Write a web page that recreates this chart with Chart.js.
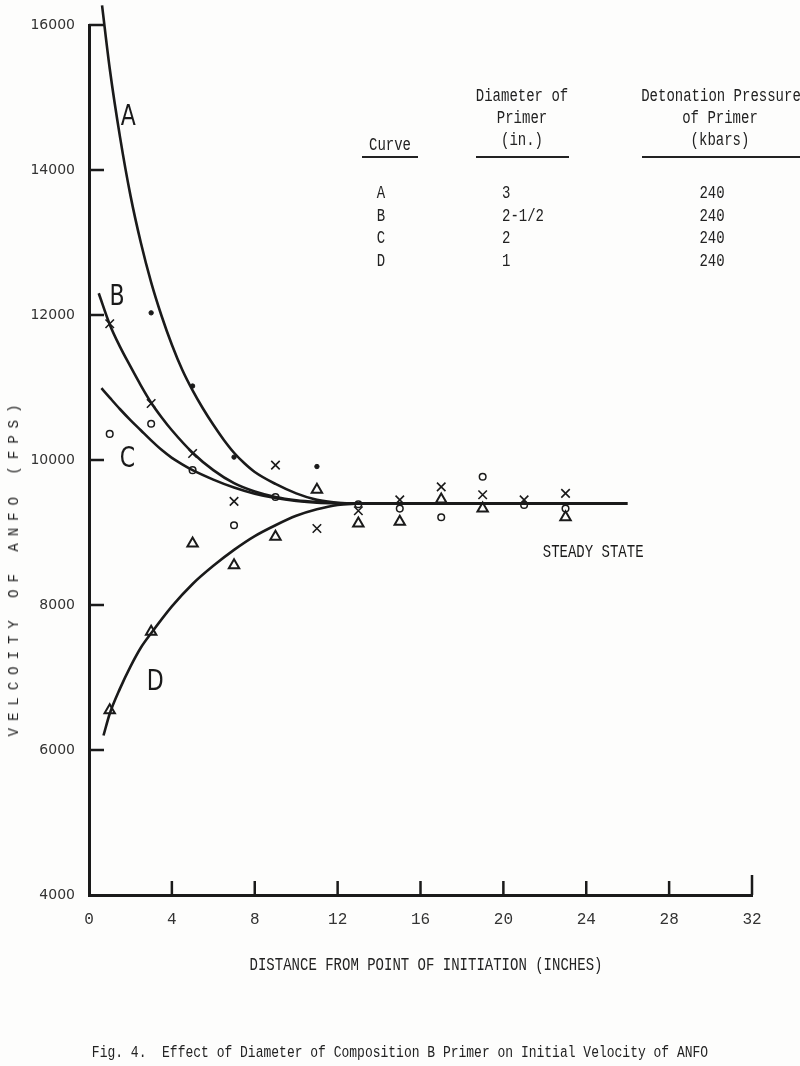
<!DOCTYPE html>
<html>
<head>
<meta charset="utf-8">
<script src="https://cdn.jsdelivr.net/npm/chart.js@4.4.1/dist/chart.umd.min.js"></script>
<style>
    body { margin: 0; background: #fff; }
    #wrap { position: relative; width: 800px; height: 1066px; overflow: hidden; background: #fdfdfc; }
    #chart { position: absolute; left: 0; top: 0; }
    .t {
        position: absolute;
        font-family: "Liberation Mono", monospace;
        font-size: 14px;
        line-height: 1;
        color: #222;
        white-space: pre;
    }
    .rule { position: absolute; height: 2px; background: #222; }
</style>
</head>
<body>
<div id="wrap">
    <canvas id="chart" width="800" height="1066"></canvas>
</div>
<script>
// axis ticks
const xTicks = [0, 4, 8, 12, 16, 20, 24, 28, 32];
const yTicks = [4000, 6000, 8000, 10000, 12000, 14000, 16000];

// fitted curves [distance in., velocity fps]
const curveA = [[0.63, 16270], [1, 15400], [1.5, 14450], [2, 13650], [2.5, 13000], [3, 12450], [3.5, 11990], [4, 11590], [4.5, 11245], [5, 10960], [5.5, 10710], [6, 10485], [6.5, 10280], [7, 10100], [7.5, 9955], [8, 9835], [9, 9670], [10, 9540], [11, 9450], [12, 9410], [13, 9400]];
const curveB = [[0.47, 12300], [1, 11870], [1.5, 11560], [2, 11290], [2.5, 11030], [3, 10790], [3.5, 10590], [4, 10410], [5, 10100], [6, 9860], [7, 9680], [8, 9565], [9, 9490], [10, 9445], [11, 9420], [12, 9405], [12.5, 9400]];
const curveC = [[0.6, 10990], [1, 10860], [1.5, 10700], [2, 10550], [2.5, 10410], [3, 10270], [3.5, 10140], [4, 10030], [4.5, 9940], [5, 9860], [6, 9730], [7, 9620], [8, 9535], [9, 9475], [10, 9435], [11, 9410], [12.5, 9400]];
const curveD = [[0.7, 6200], [1, 6500], [1.5, 6850], [2, 7150], [2.5, 7410], [3, 7610], [4, 7980], [5, 8290], [6, 8540], [7, 8760], [8, 8950], [9, 9100], [10, 9230], [11, 9320], [12, 9380], [13, 9400]];
const steadyLine = [[12.5, 9400], [26, 9400]];

// measured points
const pointsA = [[1, 16250], [3, 12030], [5, 11020], [7, 10040], [11, 9910]];
const pointsB = [[1, 11880], [3, 10780], [5, 10090], [7, 9430], [9, 9930], [11, 9055], [13, 9300], [15, 9450], [17, 9630], [19, 9520], [21, 9450], [23, 9540]];
const pointsC = [[1, 10360], [3, 10500], [5, 9860], [7, 9100], [9, 9490], [13, 9390], [15, 9330], [17, 9210], [19, 9770], [21, 9380], [23, 9330]];
const pointsD = [[1, 6550], [3, 7630], [5, 8850], [7, 8550], [9, 8940], [11, 9590], [13, 9125], [15, 9150], [17, 9455], [19, 9330], [23, 9210]];

// legend table
const curveNames = ["A", "B", "C", "D"];
const diameters = ["3", "2-1/2", "2", "1"];
const pressures = ["240", "240", "240", "240"];

const ink = "#1a1a1a";
const toXY = arr => arr.map(p => ({ x: p[0], y: p[1] }));

function lineSet(data, width) {
    return {
        data: toXY(data),
        showLine: true,
        borderColor: ink,
        borderWidth: width || 2.6,
        pointRadius: 0,
        cubicInterpolationMode: "monotone",
        clip: false
    };
}

function pointSet(data, style, radius, width, fill) {
    return {
        data: toXY(data),
        showLine: false,
        pointStyle: style,
        pointRadius: radius,
        pointBorderWidth: width,
        pointBorderColor: ink,
        pointBackgroundColor: fill,
        clip: false
    };
}

// curve letters and steady-state note, placed in data units
const notes = [
    { text: "A", x: 1.9, y: 14720, font: "22px 'DejaVu Sans'", align: "center" },
    { text: "B", x: 1.35, y: 12240, font: "22px 'DejaVu Sans'", align: "center" },
    { text: "C", x: 1.85, y: 10000, font: "22px 'DejaVu Sans'", align: "center" },
    { text: "D", x: 3.2, y: 6920, font: "22px 'DejaVu Sans'", align: "center" },
    { text: "STEADY STATE", x: 21.9, y: 8720, font: "14px 'Liberation Mono'", align: "left" }
];

const innerTicks = {
    id: "innerTicks",
    afterDraw(chart) {
        const { ctx, chartArea, scales } = chart;
        ctx.save();
        ctx.strokeStyle = ink;
        ctx.lineWidth = 2.5;
        ctx.beginPath();
        yTicks.slice(1).forEach(v => {
            const py = scales.y.getPixelForValue(v);
            ctx.moveTo(chartArea.left, py);
            ctx.lineTo(chartArea.left + 15, py);
        });
        xTicks.slice(1).forEach(v => {
            const px = scales.x.getPixelForValue(v);
            ctx.moveTo(px, chartArea.bottom);
            ctx.lineTo(px, chartArea.bottom - (v === 32 ? 20 : 14));
        });
        ctx.stroke();

        ctx.fillStyle = ink;
        ctx.textBaseline = "middle";
        notes.forEach(n => {
            const px = scales.x.getPixelForValue(n.x);
            const py = scales.y.getPixelForValue(n.y);
            ctx.font = n.font;
            ctx.textAlign = n.align;
            ctx.save();
            ctx.translate(px, py);
            ctx.scale(1, 1.25);
            ctx.fillText(n.text, 0, 0);
            ctx.restore();
        });
        ctx.restore();
    }
};

new Chart(document.getElementById("chart"), {
    type: "scatter",
    data: {
        datasets: [
            lineSet(curveA),
            lineSet(curveB),
            lineSet(curveC),
            lineSet(curveD),
            lineSet(steadyLine, 3),
            pointSet(pointsA, "circle", 2.2, 1, ink),
            pointSet(pointsB, "crossRot", 6, 1.6, ink),
            pointSet(pointsC, "circle", 3.3, 1.5, "rgba(0,0,0,0)"),
            pointSet(pointsD, "triangle", 6, 2, "rgba(0,0,0,0)")
        ]
    },
    options: {
        responsive: false,
        animation: false,
        devicePixelRatio: 1,
        layout: { padding: { left: 0, top: 25, right: 48, bottom: 0 } },
        plugins: { legend: { display: false }, tooltip: { enabled: false } },
        scales: {
            x: {
                type: "linear",
                min: 0,
                max: 32,
                afterFit: s => { s.height = 171; },
                afterBuildTicks: s => { s.ticks = xTicks.map(v => ({ value: v })); },
                grid: { display: false },
                border: { display: true, color: ink, width: 3 },
                ticks: {
                    color: "#333",
                    padding: 7,
                    font: { family: "Liberation Mono", size: 16 },
                    callback: v => String(v)
                }
            },
            y: {
                type: "linear",
                min: 4000,
                max: 16000,
                afterFit: s => { s.width = 89; },
                afterBuildTicks: s => { s.ticks = yTicks.map(v => ({ value: v })); },
                grid: { display: false },
                border: { display: true, color: ink, width: 3 },
                ticks: {
                    color: "#333",
                    padding: 6,
                    font: { family: "DejaVu Sans", size: 14 },
                    callback: v => String(v)
                }
            }
        }
    },
    plugins: [innerTicks]
});

// text around the plot
const wrap = document.getElementById("wrap");

function place(text, x, y, align, extra) {
    const el = document.createElement("div");
    el.className = "t";
    el.textContent = text;
    const shift = align === "left" ? "0" : align === "right" ? "-100%" : "-50%";
    el.style.left = x + "px";
    el.style.top = y + "px";
    el.style.transform = `translate(${shift}, -50%) scaleY(1.3)`;
    if (extra) Object.assign(el.style, extra);
    wrap.appendChild(el);
    return el;
}

function rule(x1, x2, y) {
    const el = document.createElement("div");
    el.className = "rule";
    el.style.left = x1 + "px";
    el.style.width = (x2 - x1) + "px";
    el.style.top = y + "px";
    wrap.appendChild(el);
}

place("Diameter of", 522, 96, "center");
place("Primer", 522, 118, "center");
place("(in.)", 522, 140, "center");
place("Detonation Pressure", 721, 96, "center");
place("of Primer", 720, 118, "center");
place("(kbars)", 720, 140, "center");
place("Curve", 390, 145, "center");
rule(362, 418, 156);
rule(476, 569, 156);
rule(642, 800, 156);

curveNames.forEach((c, i) => {
    const y = 193 + i * 22.5;
    place(c, 381, y, "center");
    place(diameters[i], 502, y, "left");
    place(pressures[i], 712, y, "center");
});

place("DISTANCE FROM POINT OF INITIATION (INCHES)", 426, 965, "center");
place("Fig. 4.  Effect of Diameter of Composition B Primer on Initial Velocity of ANFO", 400, 1052, "center", { fontSize: "13px" });

const yTitle = place("VELCOITY OF ANFO (FPS)", 14, 567, "center", { fontSize: "14px", letterSpacing: "7px" });
yTitle.style.transform = "translate(-50%, -50%) rotate(-90deg)";
</script>
</body>
</html>
